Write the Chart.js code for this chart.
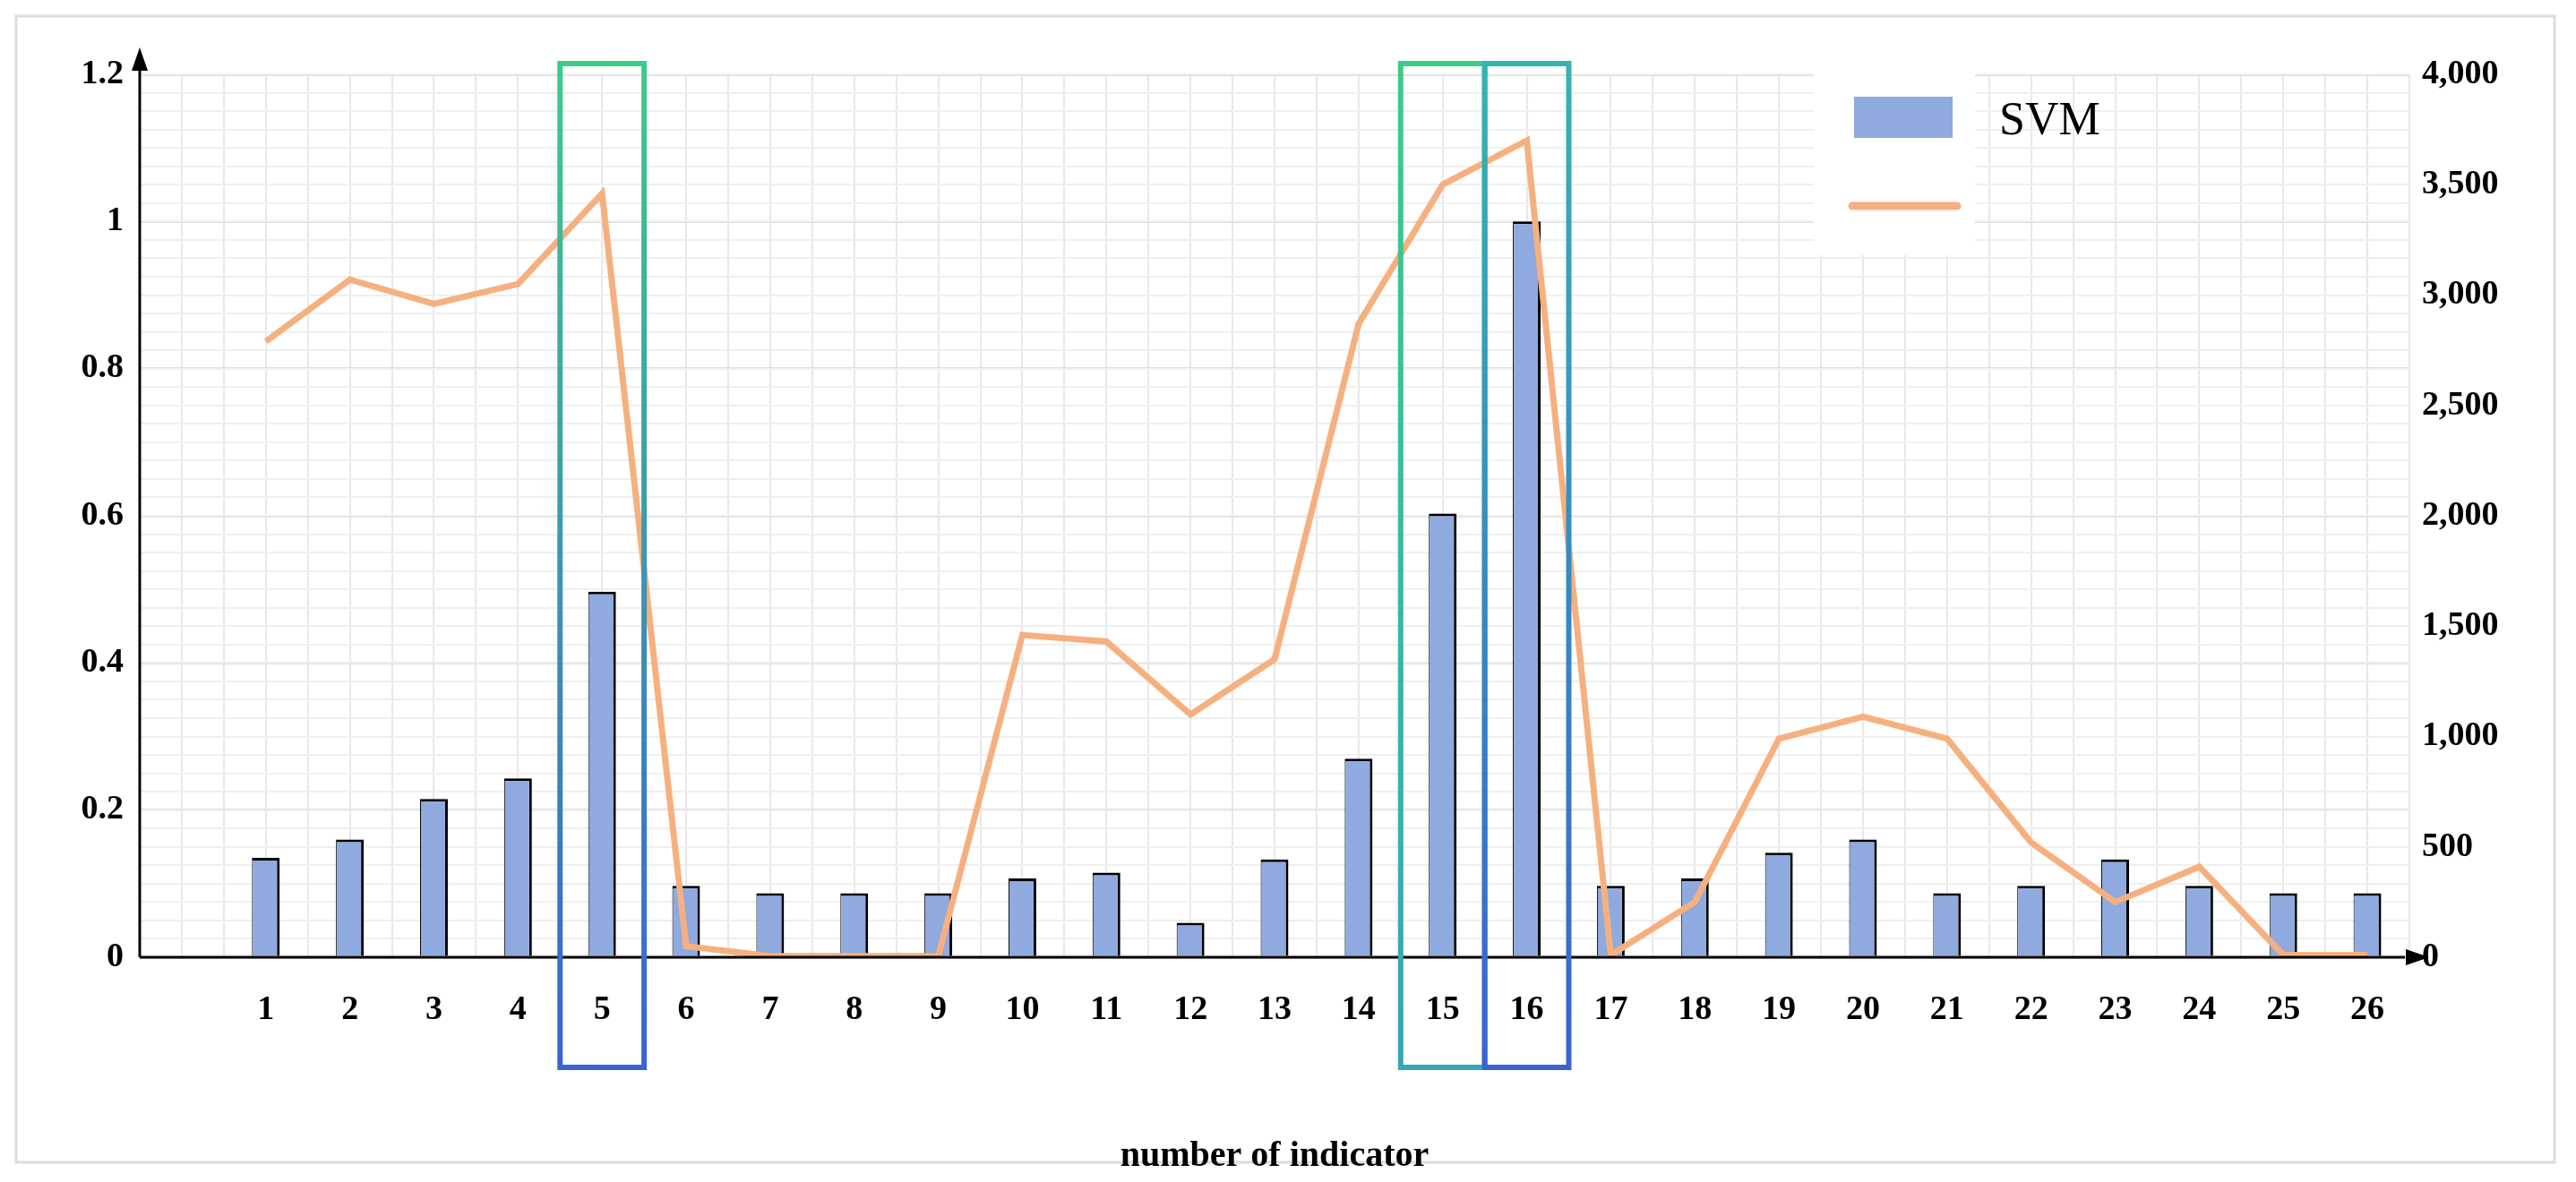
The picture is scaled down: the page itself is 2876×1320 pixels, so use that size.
<!DOCTYPE html>
<html>
<head>
<meta charset="utf-8">
<script src="https://cdn.jsdelivr.net/npm/chart.js"></script>
<style>
  html, body { margin: 0; padding: 0; background: #fff; }
  #wrap { width: 2876px; height: 1320px; }
</style>
</head>
<body>
<div id="wrap"><canvas id="chart" width="2876" height="1320"></canvas></div>
<script>
// categories (first slot is an empty one, as in the figure)
const indicators = ['', '1', '2', '3', '4', '5', '6', '7', '8', '9', '10', '11', '12', '13',
    '14', '15', '16', '17', '18', '19', '20', '21', '22', '23', '24', '25', '26'];

// SVM bars (left axis)
const svmValues = [null, 0.135, 0.16, 0.215, 0.243, 0.497, 0.097, 0.087, 0.087, 0.087, 0.107, 0.115,
    0.047, 0.133, 0.27, 0.603, 1.0, 0.097, 0.107, 0.142, 0.16, 0.087, 0.097, 0.133, 0.097, 0.087, 0.087];

// orange line (right axis)
const lineValues = [null, 2790, 3070, 2960, 3050, 3460, 50, 5, 5, 5, 1460, 1430,
    1100, 1350, 2870, 3500, 3700, 10, 250, 990, 1090, 990, 520, 250, 410, 10, 10];

// highlighted indicators
const highlighted = ['5', '15', '16'];

const serif = '"Liberation Serif", "DejaVu Serif", serif';

// Rahmen, Achsenpfeile, Markierungen und Legende
const decorPlugin = {
    id: 'decor',
    beforeDraw(chart) {
        const c = chart.ctx;
        c.save();
        c.fillStyle = '#fff';
        c.fillRect(0, 0, chart.width, chart.height);
        c.strokeStyle = '#dcdcdc';
        c.lineWidth = 3;
        c.strokeRect(18, 18, 2834, 1280);
        c.restore();
    },
    afterDraw(chart) {
        const c = chart.ctx;
        const area = chart.chartArea;
        const x = chart.scales.x;
        const step = x.getPixelForValue(2) - x.getPixelForValue(1);
        c.save();

        // axes with arrows
        c.strokeStyle = '#000';
        c.fillStyle = '#000';
        c.lineWidth = 3;
        c.beginPath();
        c.moveTo(area.left, area.bottom);
        c.lineTo(area.left, area.top - 15);
        c.moveTo(area.left, area.bottom);
        c.lineTo(area.right - 5, area.bottom);
        c.stroke();
        c.beginPath();
        c.moveTo(area.left, area.top - 30);
        c.lineTo(area.left - 9, area.top - 4);
        c.lineTo(area.left + 9, area.top - 4);
        c.closePath();
        c.fill();
        c.beginPath();
        c.moveTo(area.right + 22, area.bottom);
        c.lineTo(area.right - 4, area.bottom - 9);
        c.lineTo(area.right - 4, area.bottom + 9);
        c.closePath();
        c.fill();

        // highlight boxes
        const top = area.top - 12;
        const bottom = 1192;
        const colors = {
            '5': ['#3ecb8a', '#3a62d4'],
            '15': ['#3ecb8a', '#35a6b8'],
            '16': ['#35b4b0', '#3a62d4']
        };
        highlighted.forEach(k => {
            const cx = x.getPixelForValue(indicators.indexOf(k));
            const l = cx - step / 2, r = cx + step / 2;
            const g = c.createLinearGradient(l, top, r, bottom);
            g.addColorStop(0, colors[k][0]);
            g.addColorStop(1, colors[k][1]);
            c.strokeStyle = g;
            c.lineWidth = 6;
            c.strokeRect(l, top, r - l, bottom - top);
        });

        // legend
        c.fillStyle = '#fff';
        c.fillRect(2025, 70, 180, 215);
        c.fillStyle = '#8eaade';
        c.fillRect(2070, 108, 110, 46);
        c.strokeStyle = '#f6b07f';
        c.lineWidth = 9;
        c.lineCap = 'round';
        c.beginPath();
        c.moveTo(2068, 230);
        c.lineTo(2185, 230);
        c.stroke();
        c.fillStyle = '#000';
        c.font = '52px ' + serif;
        c.textBaseline = 'middle';
        c.fillText('SVM', 2232, 136);
        c.restore();
    }
};

new Chart(document.getElementById('chart'), {
    data: {
        labels: indicators,
        datasets: [
            {
                type: 'line',
                label: '',
                data: lineValues,
                yAxisID: 'y1',
                borderColor: '#f6b07f',
                borderWidth: 7,
                pointRadius: 0,
                tension: 0,
                order: 0
            },
            {
                type: 'bar',
                label: 'SVM',
                data: svmValues,
                yAxisID: 'y',
                backgroundColor: '#8eaade',
                borderColor: '#000',
                borderWidth: { top: 3, left: 1, right: 3, bottom: 0 },
                borderSkipped: false,
                barPercentage: 0.33,
                categoryPercentage: 1,
                order: 1
            }
        ]
    },
    options: {
        responsive: false,
        animation: false,
        layout: { padding: { top: 83, left: 0, right: 0, bottom: 0 } },
        plugins: { legend: { display: false }, tooltip: { enabled: false } },
        scales: {
            x: {
                type: 'category',
                offset: true,
                grid: { display: false },
                border: { display: false },
                ticks: { color: '#000', font: { family: serif, size: 38, weight: 'bold' }, padding: 28, maxRotation: 0, autoSkip: false },
                title: { display: true, text: 'number of indicator', color: '#000', font: { family: serif, size: 40, weight: 'bold' }, padding: { top: 40 } },
                afterFit: s => { s.height = 251; }
            },
            gx: {
                type: 'linear',
                position: 'bottom',
                min: -0.5,
                max: 26.5,
                ticks: { display: false, stepSize: 0.5 },
                grid: { color: '#e8e8e8', lineWidth: 2, drawTicks: false },
                border: { display: false },
                afterFit: s => { s.height = 0; }
            },
            y: {
                position: 'left',
                min: 0,
                max: 1.2,
                ticks: { stepSize: 0.2, color: '#000', font: { family: serif, size: 38, weight: 'bold' }, padding: 18,
                    callback: v => +v.toFixed(1) },
                grid: { color: '#dedede', lineWidth: 3, drawTicks: false },
                border: { display: false },
                afterFit: s => { s.width = 156; }
            },
            gy: {
                position: 'left',
                min: 0,
                max: 1.2,
                ticks: { display: false, stepSize: 0.025 },
                grid: { color: '#efefef', lineWidth: 2, drawTicks: false },
                border: { display: false },
                afterFit: s => { s.width = 0; }
            },
            y1: {
                position: 'right',
                min: 0,
                max: 4000,
                ticks: { stepSize: 500, color: '#000', font: { family: serif, size: 38, weight: 'bold' }, padding: 14 },
                grid: { display: false, drawTicks: false },
                border: { display: false },
                afterFit: s => { s.width = 186; }
            }
        }
    },
    plugins: [decorPlugin]
});
</script>
</body>
</html>
